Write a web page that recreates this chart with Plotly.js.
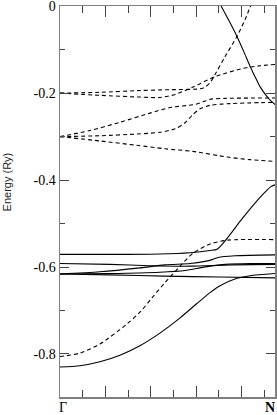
<!DOCTYPE html>
<html>
<head>
<meta charset="utf-8">
<script src="https://cdn.plot.ly/plotly-3.0.1.min.js"></script>
<style>html,body{margin:0;padding:0;background:#fff;}#chart{width:277px;height:415px;}</style>
</head>
<body>
<div id="chart"></div>
<script>
// k along Γ–N (axis units), energies in Ry
// Dashed bands
const d1k = [0, 0.176, 0.352, 0.485, 0.617, 0.639, 0.661, 0.683, 0.727, 0.780, 0.815, 0.837, 0.855];
const d1E = [-0.200, -0.198, -0.194, -0.192, -0.190, -0.186, -0.176, -0.157, -0.116, -0.069, -0.031, -0.003, 0.015];
const d2k = [0, 0.176, 0.352, 0.440, 0.507, 0.586, 0.683, 0.806, 0.881, 0.947];
const d2E = [-0.200, -0.205, -0.209, -0.210, -0.203, -0.186, -0.162, -0.143, -0.137, -0.134];
const d3k = [0, 0.132, 0.264, 0.396, 0.485, 0.595, 0.630, 0.661, 0.727, 0.947];
const d3E = [-0.300, -0.286, -0.267, -0.246, -0.233, -0.226, -0.220, -0.214, -0.212, -0.211];
const d4k = [0, 0.176, 0.339, 0.440, 0.507, 0.551, 0.586, 0.617, 0.661, 0.749, 0.947];
const d4E = [-0.300, -0.298, -0.294, -0.290, -0.282, -0.268, -0.249, -0.236, -0.228, -0.224, -0.221];
const d5k = [0, 0.176, 0.339, 0.462, 0.586, 0.736, 0.837, 0.947];
const d5E = [-0.300, -0.310, -0.320, -0.328, -0.334, -0.347, -0.353, -0.357];
const d6k = [0, 0.088, 0.176, 0.295, 0.352, 0.405, 0.462, 0.529, 0.586, 0.661, 0.740, 0.947];
const d6E = [-0.806, -0.798, -0.777, -0.731, -0.704, -0.671, -0.636, -0.598, -0.568, -0.547, -0.538, -0.537];
// Solid bands
const s1k = [0, 0.088, 0.176, 0.264, 0.352, 0.440, 0.529, 0.603, 0.661, 0.705, 0.780, 0.837, 0.947];
const s1E = [-0.830, -0.827, -0.818, -0.803, -0.781, -0.752, -0.717, -0.684, -0.659, -0.643, -0.626, -0.620, -0.615];
const s2k = [0, 0.264, 0.440, 0.573, 0.661, 0.692, 0.736, 0.793, 0.824, 0.881, 0.912, 0.929, 0.947];
const s2E = [-0.571, -0.571, -0.570, -0.567, -0.562, -0.559, -0.534, -0.495, -0.475, -0.440, -0.423, -0.415, -0.411];
const s3k = [0, 0.220, 0.396, 0.573, 0.749, 0.947];
const s3E = [-0.592, -0.594, -0.597, -0.598, -0.595, -0.594];
const s4k = [0, 0.176, 0.352, 0.462, 0.573, 0.639, 0.670, 0.696, 0.771, 0.947];
const s4E = [-0.616, -0.611, -0.602, -0.595, -0.592, -0.587, -0.583, -0.578, -0.574, -0.572];
const s5k = [0, 0.220, 0.440, 0.551, 0.617, 0.661, 0.727, 0.837, 0.947];
const s5E = [-0.616, -0.615, -0.612, -0.608, -0.602, -0.598, -0.594, -0.592, -0.592];
const s6k = [0, 0.220, 0.462, 0.705, 0.947];
const s6E = [-0.616, -0.618, -0.621, -0.623, -0.625];
const s7k = [0.692, 0.709, 0.744, 0.780, 0.810, 0.837, 0.859, 0.881, 0.912, 0.929, 0.947];
const s7E = [0.017, 0.001, -0.033, -0.070, -0.105, -0.138, -0.162, -0.185, -0.208, -0.218, -0.226];

const yTickVals = [0, -0.2, -0.4, -0.6, -0.8];
const yTickText = ['0', '-0.2', '-0.4', '-0.6', '-0.8'];
const yMinorVals = [-0.1, -0.3, -0.5, -0.7];
const xMajorVals = [0.2, 0.4, 0.6, 0.8];
const xMinorVals = [0.1, 0.3, 0.5, 0.7, 0.9];

const dashed = [[d1k, d1E], [d2k, d2E], [d3k, d3E], [d4k, d4E], [d5k, d5E], [d6k, d6E]];
const solid = [[s1k, s1E], [s2k, s2E], [s3k, s3E], [s4k, s4E], [s5k, s5E], [s6k, s6E], [s7k, s7E]];

const traces = [];
dashed.forEach(([k, e]) => traces.push({x: k, y: e, type: 'scatter', mode: 'lines', hoverinfo: 'skip', cliponaxis: true,
  line: {color: '#000', width: 1.1, dash: '4px,3px', shape: 'spline', smoothing: 0.7}}));
solid.forEach(([k, e]) => traces.push({x: k, y: e, type: 'scatter', mode: 'lines', hoverinfo: 'skip', cliponaxis: true,
  line: {color: '#000', width: 1.1, shape: 'spline', smoothing: 0.7}}));

const axisCol = '#808080';
const layout = {
  width: 277, height: 415,
  margin: {l: 60, r: 2, t: 6, b: 18},
  paper_bgcolor: '#fff', plot_bgcolor: '#fff',
  showlegend: false,
  xaxis: {range: [0, 0.947], showgrid: false, zeroline: false, showline: true, linecolor: axisCol, linewidth: 1.5,
    mirror: 'ticks', ticks: 'inside', tickmode: 'array', tickvals: xMajorVals, ticklen: 11, tickcolor: '#444', tickwidth: 1,
    showticklabels: false,
    minor: {tickmode: 'array', tickvals: xMinorVals, ticks: 'inside', ticklen: 7, tickcolor: '#444', tickwidth: 1, showgrid: false}},
  yaxis: {range: [-0.899, 0.0005], showgrid: false, zeroline: false, showline: true, linecolor: axisCol, linewidth: 1.5,
    mirror: 'ticks', ticks: 'inside', tickmode: 'array', tickvals: yTickVals, ticktext: yTickText, ticklen: 9, tickcolor: '#444', tickwidth: 1,
    ticklabeloverflow: 'allow',
    tickfont: {family: 'Liberation Serif', size: 14, color: '#000'},
    minor: {tickmode: 'array', tickvals: yMinorVals, ticks: 'inside', ticklen: 5, tickcolor: '#444', tickwidth: 1, showgrid: false}},
  annotations: [
    {text: 'Energy (Ry)', xref: 'paper', yref: 'paper', x: -0.249, y: 0.55, textangle: -90, showarrow: false,
      xanchor: 'center', yanchor: 'middle', font: {family: 'Liberation Sans', size: 11, color: '#222'}},
    {text: 'Γ', xref: 'paper', yref: 'paper', x: 0.014, y: -0.028, showarrow: false, xanchor: 'center', yanchor: 'middle',
      font: {family: 'Liberation Serif', size: 14, color: '#000'}},
    {text: '<b>N</b>', xref: 'paper', yref: 'paper', x: 0.979, y: -0.028, showarrow: false, xanchor: 'center', yanchor: 'middle',
      font: {family: 'Liberation Serif', size: 14, color: '#000'}}
  ]
};
Plotly.newPlot('chart', traces, layout, {staticPlot: true, displayModeBar: false});
</script>
</body>
</html>
